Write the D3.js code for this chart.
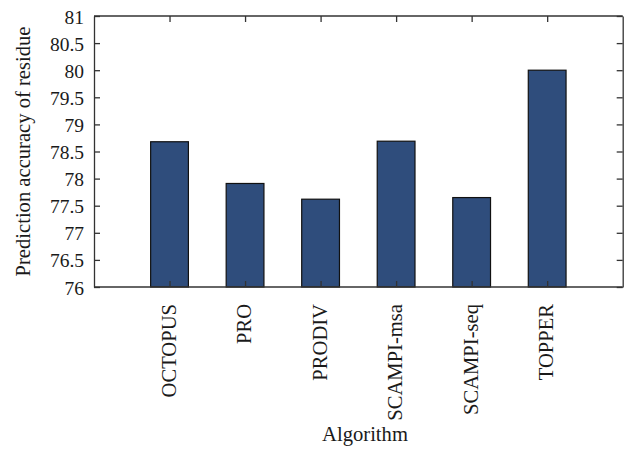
<!DOCTYPE html>
<html>
<head>
<meta charset="utf-8">
<script src="https://cdn.jsdelivr.net/npm/d3@7"></script>
<style>
  body { margin: 0; background: #fff; }
  svg { display: block; }
  text { font-family: "Liberation Serif", "Times New Roman", serif; fill: #1a1a1a; }
</style>
</head>
<body>
<svg id="chart" width="628" height="462"></svg>
<script>
const categories = ["OCTOPUS", "PRO", "PRODIV", "SCAMPI-msa", "SCAMPI-seq", "TOPPER"];
const values = [78.68, 77.91, 77.62, 78.69, 77.65, 80.0];
const yTicks = [76, 76.5, 77, 77.5, 78, 78.5, 79, 79.5, 80, 80.5, 81];
const yTickLabels = ["76", "76.5", "77", "77.5", "78", "78.5", "79", "79.5", "80", "80.5", "81"];
const xTitle = "Algorithm";
const yTitle = "Prediction accuracy of residue";

const svg = d3.select("#chart");
const L = 94, R = 622.7, T = 16, B = 287;
const fsTick = 19.5;
const fs = 20.6;

const x = d3.scalePoint().domain(categories).range([L, R]).padding(1);
const y = d3.scaleLinear().domain([76, 81]).range([B, T]);
const barW = x.step() * 0.5;

const axisColor = "#333";

// bars
svg.append("g").selectAll("rect")
  .data(categories)
  .join("rect")
  .attr("x", d => x(d) - barW / 2)
  .attr("y", (d, i) => y(values[i]))
  .attr("width", barW)
  .attr("height", (d, i) => y(76) - y(values[i]))
  .attr("fill", "#2f4d7c")
  .attr("stroke", "#111")
  .attr("stroke-width", 1.2);

function styleAxis(g) {
  g.select(".domain").attr("stroke", axisColor).attr("stroke-width", 1.3);
  g.selectAll(".tick line").attr("stroke", axisColor).attr("stroke-width", 1.3);
}

// left axis
const gl = svg.append("g").attr("transform", `translate(${L},0)`)
  .call(d3.axisLeft(y).tickValues(yTicks).tickFormat((d, i) => yTickLabels[i]).tickSize(-6).tickSizeOuter(0).tickPadding(10));
styleAxis(gl);
gl.selectAll(".tick text").attr("font-size", fsTick).attr("font-family", "Liberation Serif").attr("fill", "#1a1a1a").attr("dy", "0.36em");

// right axis
const gr = svg.append("g").attr("transform", `translate(${R},0)`)
  .call(d3.axisRight(y).tickValues(yTicks).tickFormat("").tickSize(-6).tickSizeOuter(0));
styleAxis(gr);

// top axis
const gt = svg.append("g").attr("transform", `translate(0,${T})`)
  .call(d3.axisTop(x).tickFormat("").tickSize(-6).tickSizeOuter(0));
styleAxis(gt);
gt.select(".domain").attr("d", `M${L},0H${R}`);

// bottom axis
const gb = svg.append("g").attr("transform", `translate(0,${B})`)
  .call(d3.axisBottom(x).tickSize(-6).tickSizeOuter(0));
styleAxis(gb);
gb.select(".domain").attr("d", `M${L},0H${R}`);
gb.selectAll(".tick text")
  .attr("font-size", fs).attr("font-family", "Liberation Serif").attr("fill", "#1a1a1a")
  .attr("transform", "rotate(-90)")
  .attr("x", -17).attr("y", 0).attr("dy", "0.28em")
  .attr("text-anchor", "end");

// titles
svg.append("text")
  .attr("x", 365).attr("y", 441)
  .attr("text-anchor", "middle")
  .attr("font-size", fs)
  .text(xTitle);

svg.append("text")
  .attr("transform", `translate(30,${(T + B) / 2}) rotate(-90)`)
  .attr("text-anchor", "middle")
  .attr("font-size", fs)
  .text(yTitle);
</script>
</body>
</html>
